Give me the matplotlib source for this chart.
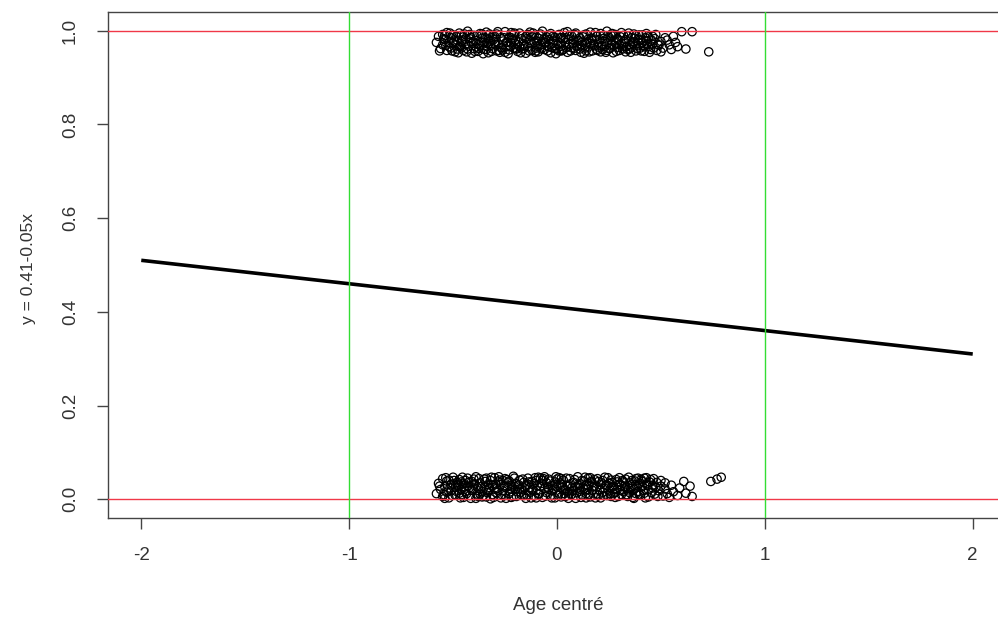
import matplotlib
matplotlib.use("Agg")
import matplotlib.pyplot as plt
import numpy as np

plt.rcParams['font.family'] = ['Liberation Sans', 'DejaVu Sans']

# Fitted line: y = 0.41 - 0.05x
intercept = 0.41
slope = -0.05
line_x = [-2.0, 2.0]

# Reference lines
h_lines = [0.0, 1.0]
v_lines = [-1.0, 1.0]

x_ticks = [-2, -1, 0, 1, 2]
x_tick_labels = ["-2", "-1", "0", "1", "2"]
y_ticks = [0.0, 0.2, 0.4, 0.6, 0.8, 1.0]
y_tick_labels = ["0.0", "0.2", "0.4", "0.6", "0.8", "1.0"]

x_title = "Age centré"
y_title = "y = 0.41-0.05x"

# Jittered observations with outcome 1
upper_pts = [
    (-0.58, 0.975), (-0.57, 0.988), (-0.56, 0.962), (-0.55, 0.992), (-0.55, 0.970),
    (-0.54, 0.981), (-0.53, 0.958), (-0.53, 0.996), (-0.52, 0.974), (-0.51, 0.985),
    (-0.51, 0.963), (-0.50, 0.991), (-0.49, 0.969), (-0.49, 0.955), (-0.48, 0.980),
    (-0.47, 0.995), (-0.47, 0.966), (-0.46, 0.977), (-0.45, 0.958), (-0.45, 0.987),
    (-0.44, 0.971), (-0.43, 0.999), (-0.43, 0.961), (-0.42, 0.983), (-0.41, 0.952),
    (-0.41, 0.973), (-0.40, 0.990), (-0.39, 0.965), (-0.39, 0.979), (-0.38, 0.956),
    (-0.37, 0.994), (-0.37, 0.968), (-0.36, 0.984), (-0.35, 0.960), (-0.35, 0.975),
    (-0.34, 0.997), (-0.33, 0.953), (-0.33, 0.982), (-0.32, 0.969), (-0.31, 0.989),
    (-0.31, 0.962), (-0.30, 0.976), (-0.29, 0.957), (-0.29, 0.993), (-0.28, 0.971),
    (-0.27, 0.985), (-0.27, 0.964), (-0.26, 0.978), (-0.25, 0.954), (-0.25, 0.998),
    (-0.24, 0.967), (-0.23, 0.986), (-0.23, 0.959), (-0.22, 0.974), (-0.21, 0.991),
    (-0.21, 0.963), (-0.20, 0.980), (-0.19, 0.956), (-0.19, 0.970), (-0.18, 0.995),
    (-0.17, 0.961), (-0.17, 0.983), (-0.16, 0.972), (-0.15, 0.952), (-0.15, 0.988),
    (-0.14, 0.966), (-0.13, 0.979), (-0.13, 0.997), (-0.12, 0.958), (-0.11, 0.975),
    (-0.11, 0.990), (-0.10, 0.963), (-0.09, 0.984), (-0.09, 0.955), (-0.08, 0.970),
    (-0.07, 0.999), (-0.07, 0.977), (-0.06, 0.960), (-0.05, 0.987), (-0.05, 0.968),
    (-0.04, 0.981), (-0.03, 0.953), (-0.03, 0.994), (-0.02, 0.973), (-0.01, 0.962),
    (-0.01, 0.986), (0.00, 0.978), (0.01, 0.957), (0.01, 0.992), (0.02, 0.967),
    (0.03, 0.983), (0.03, 0.960), (0.04, 0.975), (0.05, 0.998), (0.05, 0.954),
    (0.06, 0.971), (0.07, 0.989), (0.07, 0.964), (0.08, 0.980), (0.09, 0.958),
    (0.09, 0.995), (0.10, 0.969), (0.11, 0.985), (0.11, 0.961), (0.12, 0.976),
    (0.13, 0.952), (0.13, 0.991), (0.14, 0.972), (0.15, 0.982), (0.15, 0.965),
    (0.16, 0.997), (0.17, 0.957), (0.17, 0.979), (0.18, 0.968), (0.19, 0.988),
    (0.19, 0.960), (0.20, 0.974), (0.21, 0.994), (0.21, 0.955), (0.22, 0.983),
    (0.23, 0.966), (0.23, 0.977), (0.24, 0.999), (0.25, 0.962), (0.25, 0.986),
    (0.26, 0.971), (0.27, 0.953), (0.27, 0.990), (0.28, 0.978), (0.29, 0.964),
    (0.29, 0.984), (0.30, 0.958), (0.31, 0.973), (0.31, 0.996), (0.32, 0.967),
    (0.33, 0.981), (0.33, 0.955), (0.34, 0.989), (0.35, 0.970), (0.35, 0.961),
    (0.36, 0.985), (0.37, 0.976), (0.37, 0.993), (0.38, 0.957), (0.39, 0.968),
    (0.39, 0.982), (0.40, 0.963), (0.41, 0.991), (0.41, 0.974), (0.42, 0.956),
    (0.43, 0.979), (0.44, 0.966), (0.44, 0.987), (0.45, 0.960), (0.46, 0.972),
    (0.47, 0.983), (0.48, 0.958), (0.49, 0.969), (0.50, 0.977), (0.51, 0.963),
    (0.52, 0.985), (0.54, 0.970), (0.55, 0.960), (0.57, 0.975), (0.58, 0.966),
    (0.60, 0.998), (0.62, 0.961), (0.65, 0.998), (0.73, 0.955),
    (-0.52, 0.966), (-0.46, 0.990), (-0.40, 0.962), (-0.34, 0.973), (-0.28, 0.958),
    (-0.22, 0.996), (-0.16, 0.962), (-0.10, 0.978), (-0.04, 0.966), (0.02, 0.985),
    (0.08, 0.962), (0.14, 0.993), (0.20, 0.965), (0.26, 0.980), (0.32, 0.990),
    (0.38, 0.972), (-0.48, 0.961), (-0.36, 0.993), (-0.24, 0.976), (-0.12, 0.987),
    (0.00, 0.961), (0.12, 0.970), (0.24, 0.958), (0.36, 0.965), (0.43, 0.994),
    (-0.565, 0.957), (-0.545, 0.983), (-0.535, 0.969), (-0.515, 0.995), (-0.505, 0.957),
    (-0.495, 0.978), (-0.485, 0.988), (-0.475, 0.953), (-0.465, 0.969), (-0.455, 0.980),
    (-0.445, 0.993), (-0.435, 0.955), (-0.425, 0.967), (-0.415, 0.986), (-0.405, 0.977),
    (-0.395, 0.956), (-0.385, 0.990), (-0.375, 0.962), (-0.365, 0.975), (-0.355, 0.951),
    (-0.345, 0.985), (-0.335, 0.967), (-0.325, 0.993), (-0.315, 0.956), (-0.305, 0.981),
    (-0.295, 0.970), (-0.285, 0.998), (-0.275, 0.954), (-0.265, 0.964), (-0.255, 0.985),
    (-0.245, 0.975), (-0.235, 0.951), (-0.225, 0.967), (-0.215, 0.981), (-0.205, 0.995),
    (-0.195, 0.961), (-0.185, 0.976), (-0.175, 0.953), (-0.165, 0.990), (-0.155, 0.968),
    (-0.145, 0.983), (-0.135, 0.957), (-0.125, 0.972), (-0.115, 0.995), (-0.105, 0.954),
    (-0.095, 0.967), (-0.085, 0.990), (-0.075, 0.961), (-0.065, 0.982), (-0.055, 0.974),
    (-0.045, 0.957), (-0.035, 0.990), (-0.025, 0.964), (-0.015, 0.980), (-0.005, 0.951),
    (0.005, 0.970), (0.015, 0.985), (0.025, 0.958), (0.035, 0.996), (0.045, 0.964),
    (0.055, 0.982), (0.065, 0.957), (0.075, 0.973), (0.085, 0.992), (0.095, 0.966),
    (0.105, 0.979), (0.115, 0.954), (0.125, 0.987), (0.135, 0.963), (0.145, 0.976),
    (0.155, 0.955), (0.165, 0.984), (0.175, 0.970), (0.185, 0.996), (0.195, 0.958),
    (0.205, 0.981), (0.215, 0.968), (0.225, 0.990), (0.235, 0.954), (0.245, 0.974),
    (0.255, 0.962), (0.265, 0.994), (0.275, 0.969), (0.285, 0.956), (0.295, 0.980),
    (0.305, 0.987), (0.315, 0.961), (0.325, 0.977), (0.335, 0.966), (0.345, 0.995),
    (0.355, 0.954), (0.365, 0.972), (0.375, 0.984), (0.385, 0.962), (0.395, 0.991),
    (0.405, 0.957), (0.415, 0.969), (0.425, 0.985), (0.435, 0.972), (0.445, 0.954),
    (0.455, 0.980), (0.465, 0.963), (0.475, 0.992), (0.485, 0.971), (0.50, 0.955),
    (0.53, 0.980), (0.56, 0.988),
    (-0.54, 0.990), (-0.50, 0.974), (-0.46, 0.963), (-0.42, 0.992), (-0.38, 0.971),
    (-0.34, 0.960), (-0.30, 0.988), (-0.26, 0.959), (-0.22, 0.985), (-0.18, 0.966),
    (-0.14, 0.992), (-0.10, 0.957), (-0.06, 0.975), (-0.02, 0.988), (0.02, 0.957),
    (0.06, 0.990), (0.10, 0.980), (0.14, 0.957), (0.18, 0.982), (0.22, 0.960),
    (0.26, 0.990), (0.30, 0.970), (0.34, 0.960), (0.38, 0.990), (0.42, 0.966),
    (0.46, 0.988), (-0.44, 0.982), (-0.32, 0.978), (-0.20, 0.962), (-0.08, 0.993),
    (0.04, 0.985), (0.16, 0.973), (0.28, 0.992), (0.40, 0.980),
]

# Jittered observations with outcome 0
lower_pts = [
    (-0.58, 0.012), (-0.57, 0.034), (-0.56, 0.021), (-0.55, 0.044), (-0.55, 0.006),
    (-0.54, 0.027), (-0.53, 0.015), (-0.53, 0.039), (-0.52, 0.003), (-0.51, 0.031),
    (-0.51, 0.018), (-0.50, 0.047), (-0.49, 0.009), (-0.49, 0.025), (-0.48, 0.036),
    (-0.47, 0.013), (-0.47, 0.042), (-0.46, 0.022), (-0.45, 0.004), (-0.45, 0.033),
    (-0.44, 0.017), (-0.43, 0.045), (-0.43, 0.028), (-0.42, 0.008), (-0.41, 0.038),
    (-0.41, 0.019), (-0.40, 0.030), (-0.39, 0.002), (-0.39, 0.048), (-0.38, 0.024),
    (-0.37, 0.011), (-0.37, 0.035), (-0.36, 0.016), (-0.35, 0.043), (-0.35, 0.026),
    (-0.34, 0.005), (-0.33, 0.032), (-0.33, 0.020), (-0.32, 0.040), (-0.31, 0.010),
    (-0.31, 0.029), (-0.30, 0.046), (-0.29, 0.014), (-0.29, 0.023), (-0.28, 0.037),
    (-0.27, 0.003), (-0.27, 0.031), (-0.26, 0.018), (-0.25, 0.044), (-0.25, 0.008),
    (-0.24, 0.027), (-0.23, 0.039), (-0.23, 0.012), (-0.22, 0.022), (-0.21, 0.049),
    (-0.21, 0.006), (-0.20, 0.034), (-0.19, 0.016), (-0.19, 0.028), (-0.18, 0.041),
    (-0.17, 0.009), (-0.17, 0.021), (-0.16, 0.036), (-0.15, 0.002), (-0.15, 0.030),
    (-0.14, 0.045), (-0.13, 0.015), (-0.13, 0.025), (-0.12, 0.038), (-0.11, 0.007),
    (-0.11, 0.033), (-0.10, 0.019), (-0.09, 0.047), (-0.09, 0.011), (-0.08, 0.028),
    (-0.07, 0.040), (-0.07, 0.004), (-0.06, 0.023), (-0.05, 0.035), (-0.05, 0.014),
    (-0.04, 0.043), (-0.03, 0.008), (-0.03, 0.029), (-0.02, 0.018), (-0.01, 0.037),
    (-0.01, 0.003), (0.00, 0.026), (0.01, 0.046), (0.01, 0.013), (0.02, 0.032),
    (0.03, 0.020), (0.03, 0.041), (0.04, 0.006), (0.05, 0.030), (0.05, 0.016),
    (0.06, 0.044), (0.07, 0.024), (0.07, 0.010), (0.08, 0.036), (0.09, 0.002),
    (0.09, 0.027), (0.10, 0.048), (0.11, 0.017), (0.11, 0.033), (0.12, 0.009),
    (0.13, 0.039), (0.13, 0.022), (0.14, 0.012), (0.15, 0.045), (0.15, 0.029),
    (0.16, 0.005), (0.17, 0.035), (0.17, 0.019), (0.18, 0.042), (0.19, 0.011),
    (0.19, 0.026), (0.20, 0.038), (0.21, 0.003), (0.21, 0.031), (0.22, 0.015),
    (0.23, 0.047), (0.23, 0.023), (0.24, 0.008), (0.25, 0.034), (0.25, 0.018),
    (0.26, 0.041), (0.27, 0.012), (0.27, 0.028), (0.28, 0.004), (0.29, 0.037),
    (0.29, 0.021), (0.30, 0.046), (0.31, 0.010), (0.31, 0.030), (0.32, 0.016),
    (0.33, 0.043), (0.33, 0.025), (0.34, 0.006), (0.35, 0.035), (0.35, 0.014),
    (0.36, 0.040), (0.37, 0.022), (0.37, 0.002), (0.38, 0.031), (0.39, 0.017),
    (0.39, 0.045), (0.40, 0.009), (0.41, 0.027), (0.41, 0.038), (0.42, 0.013),
    (0.43, 0.033), (0.44, 0.020), (0.44, 0.005), (0.45, 0.042), (0.46, 0.024),
    (0.47, 0.011), (0.48, 0.036), (0.49, 0.018), (0.50, 0.028), (0.51, 0.007),
    (0.52, 0.022), (0.53, 0.012), (0.55, 0.030), (0.56, 0.016), (0.58, 0.008),
    (0.59, 0.024), (0.61, 0.038), (0.62, 0.013), (0.64, 0.028), (0.65, 0.006),
    (0.74, 0.038), (0.77, 0.043), (0.79, 0.047),
    (-0.52, 0.041), (-0.46, 0.010), (-0.40, 0.043), (-0.34, 0.019), (-0.28, 0.048),
    (-0.22, 0.030), (-0.16, 0.008), (-0.10, 0.040), (-0.04, 0.021), (0.02, 0.005),
    (0.08, 0.019), (0.14, 0.031), (0.20, 0.009), (0.26, 0.025), (0.32, 0.037),
    (0.38, 0.044), (-0.48, 0.031), (-0.36, 0.005), (-0.24, 0.042), (-0.12, 0.020),
    (0.00, 0.043), (0.12, 0.040), (0.24, 0.030), (0.36, 0.027), (0.43, 0.046),
    (-0.565, 0.028), (-0.545, 0.010), (-0.535, 0.046), (-0.515, 0.024), (-0.505, 0.008),
    (-0.495, 0.040), (-0.485, 0.017), (-0.475, 0.028), (-0.465, 0.003), (-0.455, 0.047),
    (-0.445, 0.026), (-0.435, 0.012), (-0.425, 0.036), (-0.415, 0.002), (-0.405, 0.022),
    (-0.395, 0.033), (-0.385, 0.011), (-0.375, 0.044), (-0.365, 0.027), (-0.355, 0.007),
    (-0.345, 0.038), (-0.335, 0.014), (-0.325, 0.025), (-0.315, 0.047), (-0.305, 0.004),
    (-0.295, 0.033), (-0.285, 0.019), (-0.275, 0.041), (-0.265, 0.010), (-0.255, 0.029),
    (-0.245, 0.002), (-0.235, 0.036), (-0.225, 0.016), (-0.215, 0.026), (-0.205, 0.045),
    (-0.195, 0.006), (-0.185, 0.031), (-0.175, 0.015), (-0.165, 0.043), (-0.155, 0.024),
    (-0.145, 0.009), (-0.135, 0.037), (-0.125, 0.003), (-0.115, 0.020), (-0.105, 0.046),
    (-0.095, 0.029), (-0.085, 0.012), (-0.075, 0.034), (-0.065, 0.044), (-0.055, 0.007),
    (-0.045, 0.026), (-0.035, 0.039), (-0.025, 0.003), (-0.015, 0.022), (-0.005, 0.048),
    (0.005, 0.008), (0.015, 0.035), (0.025, 0.025), (0.035, 0.012), (0.045, 0.045),
    (0.055, 0.002), (0.065, 0.033), (0.075, 0.019), (0.085, 0.042), (0.095, 0.014),
    (0.105, 0.030), (0.115, 0.004), (0.125, 0.026), (0.135, 0.047), (0.145, 0.021),
    (0.155, 0.010), (0.165, 0.038), (0.175, 0.027), (0.185, 0.003), (0.195, 0.044),
    (0.205, 0.020), (0.215, 0.035), (0.225, 0.008), (0.235, 0.030), (0.245, 0.046),
    (0.255, 0.012), (0.265, 0.036), (0.275, 0.022), (0.285, 0.042), (0.295, 0.006),
    (0.305, 0.019), (0.315, 0.040), (0.325, 0.028), (0.335, 0.010), (0.345, 0.047),
    (0.355, 0.023), (0.365, 0.004), (0.375, 0.039), (0.385, 0.026), (0.395, 0.011),
    (0.405, 0.042), (0.415, 0.019), (0.425, 0.003), (0.435, 0.030), (0.445, 0.037),
    (0.455, 0.014), (0.465, 0.044), (0.475, 0.025), (0.485, 0.006), (0.50, 0.040),
    (0.52, 0.035), (0.54, 0.004),
    (-0.54, 0.002), (-0.50, 0.033), (-0.46, 0.037), (-0.42, 0.025), (-0.38, 0.006),
    (-0.34, 0.045), (-0.30, 0.024), (-0.26, 0.040), (-0.22, 0.004), (-0.18, 0.022),
    (-0.14, 0.032), (-0.10, 0.003), (-0.06, 0.048), (-0.02, 0.029), (0.02, 0.044),
    (0.06, 0.013), (0.10, 0.024), (0.14, 0.003), (0.18, 0.028), (0.22, 0.040),
    (0.26, 0.006), (0.30, 0.032), (0.34, 0.020), (0.38, 0.012), (0.42, 0.045),
    (0.46, 0.030), (-0.44, 0.040), (-0.32, 0.001), (-0.20, 0.021), (-0.08, 0.045),
    (0.04, 0.020), (0.16, 0.046), (0.28, 0.014), (0.40, 0.034),
]

upper = np.array(upper_pts)
lower = np.array(lower_pts)

fig = plt.figure(figsize=(9.98, 6.2), dpi=100)
ax = fig.add_axes([108 / 998, 1 - 518 / 620, (1006 - 108) / 998, (518 - 12) / 620])

ax.set_xlim(-2.16, 2.16)
ax.set_ylim(-0.04, 1.04)

for pts in (upper, lower):
    ax.scatter(pts[:, 0], pts[:, 1], s=36, facecolors='none', edgecolors='black',
               linewidths=0.9, zorder=2)

lx = np.array(line_x)
ax.plot(lx, intercept + slope * lx, color='black', lw=2.6, solid_capstyle='butt', zorder=3)

for h in h_lines:
    ax.axhline(h, color='#f03848', lw=1.0, zorder=4)
for v in v_lines:
    ax.axvline(v, color='#33dd33', lw=1.0, zorder=4)

for side in ('top', 'right', 'left', 'bottom'):
    ax.spines[side].set_color('#444444')
    ax.spines[side].set_linewidth(1.0)

ax.set_xticks(x_ticks)
ax.set_xticklabels(x_tick_labels)
ax.set_yticks(y_ticks)
ax.set_yticklabels(y_tick_labels, rotation=90, va='center')
ax.tick_params(axis='both', direction='out', length=8, width=1.0, color='#444444',
               labelsize=13.5, labelcolor='#333333')
ax.tick_params(axis='x', pad=13)
ax.tick_params(axis='y', pad=13)

fig.text(558.5 / 998, 1 - 606 / 620, x_title, fontsize=13.5, color='#333333',
         ha='center', va='center')
fig.text(29 / 998, 1 - 268 / 620, y_title, fontsize=12.5, color='#333333',
         ha='center', va='center', rotation=90)

fig.savefig("out.png", dpi=100)
